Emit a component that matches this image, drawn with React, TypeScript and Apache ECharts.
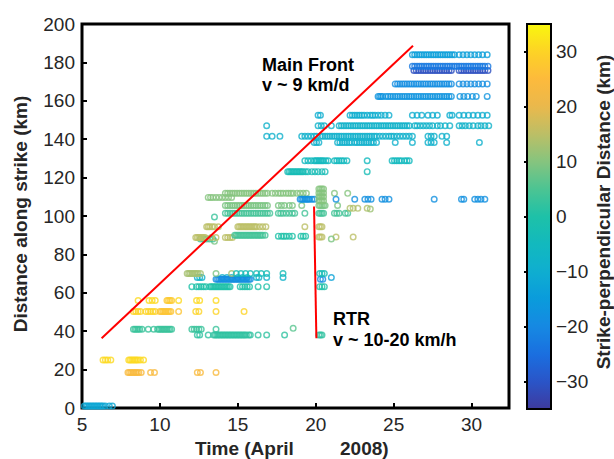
import React, { useEffect, useRef } from 'react';
import * as echarts from 'echarts';

const xTicks = [5, 10, 15, 20, 25, 30];
const yTicks = [0, 20, 40, 60, 80, 100, 120, 140, 160, 180, 200];
const colorTicks = [-30, -20, -10, 0, 10, 20, 30];
const colorStops = ['#3e3a9e', '#2a55c8', '#1a6fe0', '#1689e2', '#0a9bdc', '#0faed0', '#12b9be', '#1ec1a8', '#4cc493', '#86c47e', '#bcbf66', '#eab84c', '#fdba3c', '#fdd325', '#f9f70e'];

const mainFront = [[6.26, 36.3], [26.24, 188.7]];
const rtrLine = [[19.89, 104.9], [20.04, 36.3]];

// each row: [distance along strike, strike-perpendicular distance, ...times]
const rowsEarly: number[][] = [
  [1, -12, 5.15, 5.25, 5.35, 5.45, 5.55, 5.65, 5.75, 5.85, 5.95, 6.05, 6.15, 6.25, 6.35, 6.5, 6.75, 6.95],
  [25, 31, 6.35, 6.5, 6.65, 6.85, 8.0, 8.1, 8.2, 8.3, 8.4, 8.5, 8.6, 8.75, 8.95],
  [18.5, 24, 7.95, 8.05, 8.15, 8.25, 8.35, 8.45, 8.55, 8.65, 8.8, 9.4, 9.65, 12.4, 12.6, 13.6],
  [41, 3, 8.3, 8.4, 8.5, 8.6, 8.7, 8.85, 9.25, 9.6, 9.85, 9.95, 10.05, 10.15, 10.25, 10.35, 10.45, 10.55, 10.65, 10.75, 12.05, 12.2, 12.35, 12.5, 12.65, 13.6],
  [41.5, 6, 18.55],
  [38, 2, 12.4, 12.55, 13.1, 13.45, 13.55, 13.65, 13.75, 13.85, 13.95, 14.05, 14.15, 14.25, 14.35, 14.45, 14.55, 14.65, 14.75, 14.85, 14.95, 15.05, 15.15, 15.25, 15.35, 15.45, 15.55, 15.7, 15.8, 16.3, 16.85, 18.0, 20.2, 20.3, 20.4],
  [50.2, 30, 8.3, 8.45, 8.6, 8.75, 9.1, 9.25, 9.4, 9.55, 9.7, 12.3, 12.5, 13.6, 15.4],
  [50.2, 27, 10.0, 10.1, 10.2, 10.3, 10.4, 10.5, 10.6, 10.7, 11.2],
  [56, 31, 8.6, 9.3, 9.5, 9.7, 11.2, 12.35, 12.55, 13.6],
  [56, 28, 10.45, 10.55, 10.65, 10.75],
];

const rowsMid: number[][] = [
  [63.2, 0, 12.05, 12.35, 12.5, 12.65, 12.8, 12.95, 13.2, 13.3, 13.4, 13.5, 13.6, 13.7, 13.8, 13.9, 14.0, 14.1, 14.2, 14.3, 14.4, 14.5, 15.15, 15.3, 15.45, 15.6, 15.75, 16.3, 16.85, 20.25, 20.4, 20.55],
  [68, -8, 12.4, 12.55, 12.7, 14.0, 14.3, 14.6, 15.0, 15.3, 15.6, 16.2, 16.35, 16.85, 17.9],
  [67, -19, 13.6, 13.7, 13.8, 13.9, 14.0, 14.1, 14.2, 14.3, 14.4, 14.5, 14.6, 14.7, 14.8, 14.9, 15.0, 15.1, 15.2, 15.3, 15.4, 15.5, 15.6, 15.7, 15.8, 20.3, 20.45],
  [68, -13, 21.0],
  [70, 13, 11.75, 11.85, 11.95, 12.05, 12.15, 12.25, 12.35, 12.45, 12.6, 14.6],
  [70, 9, 13.6],
  [70, -3, 14.9, 15.2, 15.5, 15.8, 16.2, 16.5, 16.85, 17.9, 20.25, 20.4, 20.55],
  [86.8, 9, 13.5],
  [88, 4, 12.6, 12.8, 13.0, 13.2, 13.4],
  [88.8, 15, 12.3, 12.4, 12.5, 12.6, 12.7, 12.8, 12.9, 13.3, 13.6, 14.2, 14.35, 14.5, 14.65],
  [90, 4, 14.8, 14.9, 15.0, 15.1, 15.2, 15.3, 15.4, 15.5, 15.6, 15.7, 15.8, 15.9, 16.0, 16.1, 16.2, 16.3, 16.4, 16.5, 16.6, 16.75],
  [89.5, 0, 17.6, 17.8, 17.95, 18.1, 18.3, 18.5, 19.05, 19.2, 19.35],
  [89, 15, 20.2, 20.3, 20.4, 21.3, 22.4],
  [88, 9, 21.0],
  [94.4, 15, 13.0, 13.1, 13.2, 13.35, 13.5, 13.75, 15.0, 15.1, 15.2, 15.3, 15.4, 15.5, 15.6, 15.7, 15.8, 15.9, 16.0, 16.1, 16.2, 16.4, 16.6, 16.8, 19.3, 20.2, 20.3, 20.4],
  [99.5, 3, 13.5],
  [101.4, 4, 14.2, 14.35, 14.5, 14.65, 14.8, 14.95, 15.1, 15.25, 15.4, 15.55, 15.7, 15.85, 16.0, 16.15, 16.3, 16.45, 16.6, 16.75, 16.9, 17.05, 17.6, 17.75, 17.9, 18.1, 18.3, 18.5, 18.65, 19.3, 20.2, 20.3, 20.4, 20.5, 21.2, 21.35, 21.5, 21.9, 22.05],
  [105.5, 9, 14.2, 14.35, 14.5, 14.65, 14.8, 14.95, 15.1, 15.25, 15.4, 15.55, 15.7, 15.85, 16.0, 16.15, 16.3, 16.45, 16.6, 16.75, 16.9, 17.6, 17.8, 18.0, 18.3, 18.5, 19.1, 20.2, 20.3, 20.4, 20.5, 20.6, 21.4],
  [104, 14, 22.2, 22.4, 22.7, 23.3],
  [103.6, 12, 23.5],
  [109.7, 10, 13.1, 13.25, 13.4, 13.6, 13.8, 14.0, 14.2, 14.4, 14.6],
  [111.8, 10, 14.2, 14.35, 14.5, 14.65, 14.8, 14.95, 15.1, 15.25, 15.4, 15.55, 15.7, 15.85, 16.0, 16.15, 16.3, 16.45, 16.6, 16.75, 16.9, 17.2, 17.4, 17.6, 17.75, 17.9, 18.1, 18.25, 18.4, 18.55, 18.8, 19.0, 19.2, 19.4, 21.2, 22.05],
  [108.7, -18, 19.0, 19.1, 19.2, 19.3, 19.4, 19.5, 19.6, 19.75, 19.9, 21.3, 22.5, 23.15, 23.35, 23.55, 24.25, 24.45, 24.7, 27.6, 29.35, 29.5, 30.2, 30.4, 30.6, 30.85],
  [108, 10, 20.2, 20.3, 20.4, 20.5],
  [110, 10, 20.2, 20.3, 20.4, 20.5],
  [112, 10, 20.2, 20.3, 20.4, 20.5],
  [114, 10, 20.2, 20.3, 20.4, 20.5],
];

const rowsUpper: number[][] = [
  [123.1, -3, 18.2, 18.3, 18.4, 18.5, 18.6, 18.7, 18.8, 18.9, 19.0, 19.1, 19.2, 19.35, 19.5, 19.75, 19.95, 20.15, 20.4, 20.6, 23.3],
  [128.8, -5, 19.3, 19.5, 19.7, 19.9, 20.0, 20.1, 20.2, 20.3, 20.4, 20.5, 20.65, 20.8, 21.2, 21.35, 21.5, 21.65, 21.8, 22.0, 23.3, 24.9, 25.05, 25.2, 25.35, 25.5, 25.7, 25.85, 26.0],
  [138.3, -9, 19.9, 20.05, 20.2, 21.4, 21.55, 21.7, 21.85, 22.0, 22.15, 22.3, 22.5, 22.65, 22.8, 22.95, 23.1, 23.25, 23.4, 23.55, 23.7, 23.9, 25.1, 26.2, 27.2, 27.4, 27.6, 28.4, 30.5],
  [141.5, -9, 16.85, 17.2, 17.7, 19.1, 19.3, 19.5, 19.7, 19.9, 20.05, 20.3, 20.45, 20.6, 20.75, 20.9, 21.05, 21.2, 21.35, 21.5, 21.65, 21.8, 21.95, 22.1, 22.25, 22.4, 22.55, 22.7, 22.85, 23.0, 23.15, 23.3, 23.45, 23.6, 23.75, 23.9, 24.1, 24.3, 24.5, 24.7, 24.85, 25.0, 25.2, 25.4, 25.6, 25.8, 26.0, 26.2, 27.2, 27.4, 27.6, 28.1, 28.4],
  [147, -8, 16.85, 20.15, 20.35, 20.55, 21.0, 21.5, 21.65, 21.8, 21.95, 22.1, 22.25, 22.4, 22.55, 22.7, 22.85, 23.0, 23.15, 23.3, 23.45, 23.6, 23.75, 23.9, 24.05, 24.2, 24.35, 24.5, 24.65, 24.8, 24.95, 25.1, 25.25, 25.4, 25.55, 25.7, 25.85, 26.0, 26.35, 26.5, 26.7, 26.9, 27.1, 27.3, 27.5, 27.8, 28.0, 28.3, 28.6, 29.2, 29.4, 29.6, 29.85, 30.1, 30.4, 30.6, 30.85, 31.1],
  [152.5, -10, 20.15, 20.3, 22.2, 22.35, 22.5, 22.65, 22.8, 22.95, 23.1, 23.3, 23.5, 23.65, 23.8, 24.0, 24.2, 24.45, 24.7, 26.2, 26.5, 26.8, 27.2, 27.5, 27.8, 28.6, 28.75, 29.2, 29.5, 29.8, 30.1, 30.4, 30.7, 31.0],
];

const rowsTop: number[][] = [
  [162.3, -17, 24.0, 24.1, 24.2, 24.3, 24.5, 24.65, 24.8, 24.95, 25.1, 25.25, 25.4, 25.55, 25.7, 25.85, 26.0, 26.15, 26.3, 26.45, 26.6, 26.75, 26.9, 27.05, 27.2, 27.35, 27.5, 27.65, 27.8, 27.95, 28.1, 28.25, 28.4, 28.55, 28.7, 29.25, 29.5, 29.75, 30.05, 30.3, 31.0],
  [168.8, -19, 25.1, 25.25, 25.4, 25.55, 25.7, 25.85, 26.0, 26.15, 26.3, 26.45, 26.6, 26.75, 26.9, 27.05, 27.2, 27.35, 27.5, 27.65, 27.8, 27.95, 28.1, 28.25, 28.4, 28.55, 28.7, 29.2, 29.45, 29.7, 29.95, 30.2, 30.45, 30.7, 31.0],
  [175.8, -31, 26.3, 26.45, 26.6, 26.75, 26.9, 27.05, 27.2, 27.35, 27.5, 27.65, 27.8, 27.95, 28.1, 28.25, 28.4, 28.55, 28.7, 29.2, 29.35, 29.5, 29.65, 29.8, 29.95, 30.1, 30.25, 30.4, 30.55, 30.7, 30.85, 31.05],
  [178, -23, 26.2, 26.35, 26.5, 26.65, 26.8, 26.95, 27.1, 27.25, 27.4, 27.55, 27.7, 27.85, 28.0, 28.15, 28.3, 28.45, 28.6, 28.75, 28.9, 29.05, 29.2, 29.35, 29.5, 29.65, 29.8, 29.95, 30.1, 30.25, 30.4, 30.55, 30.7, 30.85, 31.05],
  [184, -14, 26.2, 26.35, 26.5, 26.65, 26.8, 26.95, 27.1, 27.25, 27.4, 27.55, 27.7, 27.85, 28.0, 28.15, 28.3, 28.45, 28.6, 28.75, 28.9, 29.2, 29.45, 29.7, 29.95, 30.2, 30.45, 30.7, 31.0],
];

const FONT = 'Liberation Sans, Arial, Helvetica, sans-serif';
const RING = 'path://M10,0A10,10,0,1,0,-10,0A10,10,0,1,0,10,0ZM5.9,0A5.9,5.9,0,1,1,-5.9,0A5.9,5.9,0,1,1,5.9,0Z';

function toPoints(rows: number[][]) {
  const out: number[][] = [];
  rows.forEach((r) => {
    for (let i = 2; i < r.length; i++) out.push([r[i], r[0], r[1]]);
  });
  return out;
}

const minusFmt = (v: number) => (v < 0 ? '\u2212' + Math.abs(v) : String(v));

export default function App() {
  const ref = useRef<HTMLDivElement>(null);
  useEffect(() => {
    if (!ref.current) return;
    const chart = echarts.init(ref.current, undefined, { renderer: 'svg' });
    const points = [...toPoints(rowsEarly), ...toPoints(rowsMid), ...toPoints(rowsUpper), ...toPoints(rowsTop)];
    const labelStyle = { fontFamily: FONT, fontSize: 19, color: '#262626' };
    chart.setOption({
      animation: false,
      backgroundColor: '#fff',
      grid: [
        { left: 82, top: 24, width: 427, height: 384, show: true, borderColor: '#000', borderWidth: 3, backgroundColor: 'transparent' },
        { left: 527, top: 24, width: 24, height: 385, show: false },
      ],
      xAxis: [
        {
          gridIndex: 0, type: 'value', min: 5, max: 32.4,
          axisLine: { show: false },
          axisTick: { inside: true, length: 5, customValues: xTicks, lineStyle: { color: '#000', width: 2 } },
          axisLabel: { ...labelStyle, margin: 7, customValues: xTicks },
          splitLine: { show: false },
        },
        { gridIndex: 1, type: 'value', min: 0, max: 1, show: false },
      ],
      yAxis: [
        {
          gridIndex: 0, type: 'value', min: 0, max: 200,
          axisLine: { show: false },
          axisTick: { inside: true, length: 5, customValues: yTicks, lineStyle: { color: '#000', width: 2 } },
          axisLabel: { ...labelStyle, margin: 7, customValues: yTicks },
          splitLine: { show: false },
        },
        {
          gridIndex: 1, type: 'value', min: -35, max: 35, position: 'right',
          axisLine: { show: false },
          axisTick: { inside: true, length: 3, customValues: colorTicks, lineStyle: { color: '#000', width: 2 } },
          axisLabel: { ...labelStyle, margin: 5, customValues: colorTicks, formatter: minusFmt },
          splitLine: { show: false },
        },
        {
          gridIndex: 1, type: 'value', min: -35, max: 35, position: 'left',
          axisLine: { show: false },
          axisTick: { inside: true, length: 3, customValues: colorTicks, lineStyle: { color: '#000', width: 2 } },
          axisLabel: { show: false },
          splitLine: { show: false },
        },
      ],
      visualMap: {
        type: 'continuous', min: -35, max: 35, dimension: 2, seriesIndex: 0,
        inRange: { color: colorStops },
        left: 527, top: 24, itemWidth: 24, itemHeight: 385, padding: 0,
        calculable: false, hoverLink: false, z: 3,
      },
      series: [
        {
          type: 'scatter', xAxisIndex: 0, yAxisIndex: 0, data: points,
          symbol: RING, symbolSize: 7, silent: true,
        },
        {
          type: 'line', xAxisIndex: 0, yAxisIndex: 0, data: mainFront, symbol: 'none',
          lineStyle: { color: '#ff0000', width: 2 }, z: 5, silent: true,
        },
        {
          type: 'line', xAxisIndex: 0, yAxisIndex: 0, data: rtrLine, symbol: 'none',
          lineStyle: { color: '#ff0000', width: 2 }, z: 5, silent: true,
        },
      ],
      graphic: [
        { type: 'rect', z: 100, shape: { x: 527, y: 24, width: 24, height: 385 }, style: { fill: 'none', stroke: '#000', lineWidth: 2 } },
        { type: 'text', z: 100, x: 262, y: 64.5, style: { text: 'Main Front', font: `bold 18px ${FONT}`, fill: '#000', align: 'left', verticalAlign: 'middle' } },
        { type: 'text', z: 100, x: 262, y: 85, style: { text: 'v ~ 9 km/d', font: `bold 18px ${FONT}`, fill: '#000', align: 'left', verticalAlign: 'middle' } },
        { type: 'text', z: 100, x: 333, y: 319, style: { text: 'RTR', font: `bold 18px ${FONT}`, fill: '#000', align: 'left', verticalAlign: 'middle' } },
        { type: 'text', z: 100, x: 333, y: 340, style: { text: 'v ~ 10-20 km/h', font: `bold 18px ${FONT}`, fill: '#000', align: 'left', verticalAlign: 'middle' } },
        { type: 'text', z: 100, x: 195, y: 448, style: { text: 'Time (April', font: `bold 19px ${FONT}`, fill: '#262626', align: 'left', verticalAlign: 'middle' } },
        { type: 'text', z: 100, x: 340, y: 448, style: { text: '2008)', font: `bold 19px ${FONT}`, fill: '#262626', align: 'left', verticalAlign: 'middle' } },
        { type: 'text', z: 100, x: 20, y: 214, rotation: Math.PI / 2, style: { text: 'Distance along strike (km)', font: `bold 19px ${FONT}`, fill: '#262626', align: 'center', verticalAlign: 'middle' } },
        { type: 'text', z: 100, x: 603, y: 212, rotation: Math.PI / 2, style: { text: 'Strike-perpendicular Distance (km)', font: `bold 19px ${FONT}`, fill: '#262626', align: 'center', verticalAlign: 'middle' } },
      ],
    });
    return () => chart.dispose();
  }, []);
  return <div ref={ref} style={{ position: 'fixed', left: 0, top: 0, width: 614, height: 459 }} />;
}
